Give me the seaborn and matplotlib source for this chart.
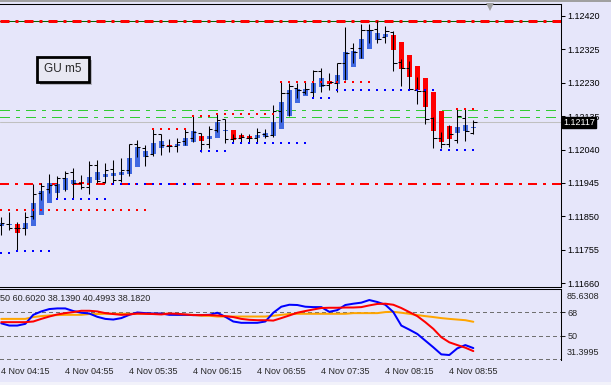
import numpy as np
import matplotlib
matplotlib.use("Agg")
import matplotlib.pyplot as plt
import seaborn as sns
from matplotlib.patches import Rectangle
from matplotlib.lines import Line2D
from matplotlib.transforms import IdentityTransform, blended_transform_factory

# "GU m5" 5-minute bars, real OHLC (black bars)
open_ = [1.11824, 1.11828, 1.11818, 1.11818, 1.11851, 1.11916, 1.11929, 1.11939, 1.11960, 1.11975,
         1.11946, 1.11934, 1.11995, 1.11948, 1.11984, 1.11953, 1.11982, 1.12055, 1.12044, 1.12027,
         1.12084, 1.12050, 1.12049, 1.12065, 1.12072, 1.12086, 1.12055, 1.12097, 1.12126, 1.12070,
         1.12074, 1.12074, 1.12074, 1.12084, 1.12082, 1.12150, 1.12200, 1.12214, 1.12205, 1.12203,
         1.12264, 1.12223, 1.12229, 1.12285, 1.12328, 1.12328, 1.12380, 1.12382, 1.12359, 1.12375,
         1.12288, 1.12271, 1.12210, 1.12207, 1.12129, 1.12072, 1.12056, 1.12067, 1.12129, 1.12088]
high = [1.11848, 1.11861, 1.11834, 1.11863, 1.11941, 1.11944, 1.11971, 1.11965, 1.11979, 1.11987,
        1.11968, 1.12008, 1.12010, 1.12002, 1.12010, 1.12017, 1.12055, 1.12067, 1.12052, 1.12098,
        1.12085, 1.12070, 1.12074, 1.12098, 1.12136, 1.12088, 1.12107, 1.12141, 1.12127, 1.12084,
        1.12086, 1.12084, 1.12101, 1.12099, 1.12167, 1.12233, 1.12229, 1.12230, 1.12235, 1.12266,
        1.12271, 1.12257, 1.12287, 1.12389, 1.12343, 1.12397, 1.12397, 1.12407, 1.12390, 1.12377,
        1.12297, 1.12292, 1.12246, 1.12212, 1.12132, 1.12091, 1.12110, 1.12156, 1.12155, 1.12124]
low = [1.11797, 1.11811, 1.11752, 1.11797, 1.11842, 1.11897, 1.11917, 1.11902, 1.11923, 1.11902,
       1.11928, 1.11914, 1.11944, 1.11946, 1.11946, 1.11949, 1.11965, 1.12020, 1.11993, 1.12022,
       1.12025, 1.12033, 1.12034, 1.12053, 1.12062, 1.12034, 1.12044, 1.12090, 1.12060, 1.12058,
       1.12058, 1.12058, 1.12058, 1.12072, 1.12077, 1.12119, 1.12136, 1.12188, 1.12199, 1.12189,
       1.12205, 1.12208, 1.12205, 1.12238, 1.12286, 1.12300, 1.12342, 1.12342, 1.12344, 1.12262,
       1.12221, 1.12210, 1.12169, 1.12112, 1.12044, 1.12044, 1.12048, 1.12060, 1.12065, 1.12084]
close = [1.11830, 1.11816, 1.11818, 1.11848, 1.11914, 1.11937, 1.11939, 1.11958, 1.11973, 1.11944,
         1.11933, 1.11995, 1.11951, 1.11982, 1.11954, 1.11982, 1.12055, 1.12047, 1.12022, 1.12084,
         1.12052, 1.12050, 1.12062, 1.12090, 1.12091, 1.12056, 1.12098, 1.12124, 1.12069, 1.12073,
         1.12076, 1.12074, 1.12089, 1.12079, 1.12150, 1.12200, 1.12222, 1.12210, 1.12212, 1.12264,
         1.12224, 1.12233, 1.12285, 1.12314, 1.12318, 1.12380, 1.12379, 1.12355, 1.12378, 1.12285,
         1.12272, 1.12212, 1.12207, 1.12127, 1.12072, 1.12056, 1.12084, 1.12136, 1.12094, 1.12119]

# heiken ashi bodies (coloured rectangles)
ha_open = [1.11823, 1.11825, 1.11828, 1.11815, 1.11823, 1.11854, 1.11889, 1.11915, 1.11924, 1.11942,
           1.11948, 1.11945, 1.11954, 1.11963, 1.11966, 1.11968, 1.11971, 1.11991, 1.12020, 1.12027,
           1.12043, 1.12053, 1.12049, 1.12051, 1.12062, 1.12079, 1.12070, 1.12074, 1.12094, 1.12096,
           1.12081, 1.12079, 1.12073, 1.12075, 1.12079, 1.12099, 1.12136, 1.12171, 1.12192, 1.12200,
           1.12217, 1.12235, 1.12227, 1.12238, 1.12276, 1.12298, 1.12326, 1.12352, 1.12361, 1.12366,
           1.12346, 1.12309, 1.12278, 1.12244, 1.12204, 1.12150, 1.12107, 1.12088, 1.12094, 1.12102]
ha_close = [1.11830, 1.11828, 1.11804, 1.11831, 1.11888, 1.11922, 1.11944, 1.11942, 1.11960, 1.11954,
            1.11942, 1.11962, 1.11976, 1.11971, 1.11974, 1.11977, 1.12017, 1.12047, 1.12036, 1.12059,
            1.12064, 1.12049, 1.12057, 1.12074, 1.12094, 1.12065, 1.12079, 1.12117, 1.12096, 1.12067,
            1.12073, 1.12072, 1.12082, 1.12086, 1.12119, 1.12175, 1.12210, 1.12213, 1.12212, 1.12230,
            1.12243, 1.12227, 1.12252, 1.12318, 1.12319, 1.12355, 1.12378, 1.12372, 1.12369, 1.12323,
            1.12268, 1.12245, 1.12208, 1.12162, 1.12094, 1.12062, 1.12070, 1.12105, 1.12110, 1.12103]

# dotted resistance / support levels: price, first bar, last bar
res_price = [1.11868, 1.12099, 1.12136, 1.12141, 1.12233, 1.12155]
res_start = [0, 19, 24, 27, 35, 57]
res_end = [18, 23, 26, 34, 46, 59]
sup_price = [1.11745, 1.11752, 1.11900, 1.11942, 1.12037, 1.12058, 1.12188, 1.12208, 1.12039]
sup_start = [0, 2, 7, 14, 25, 29, 39, 42, 55]
sup_end = [1, 6, 13, 24, 28, 38, 41, 54, 59]

hi_line = 1.12405
lo_line = 1.11943
green_lines = [1.12153, 1.12132]
bid = 1.12117

price_ticks = [1.11660, 1.11755, 1.11850, 1.11945, 1.12040, 1.12135, 1.12230, 1.12325, 1.12420]
time_labels = ["4 Nov 04:15", "4 Nov 04:55", "4 Nov 05:35", "4 Nov 06:15",
               "4 Nov 06:55", "4 Nov 07:35", "4 Nov 08:15", "4 Nov 08:55"]

# oscillator sub window
osc_blue = [59.4, 57.7, 57.7, 59.0, 65.9, 68.5, 70.3, 70.8, 70.8, 68.8,
            67.5, 66.9, 64.4, 62.8, 62.3, 63.4, 65.9, 67.7, 67.2, 66.9,
            66.9, 65.9, 65.9, 65.9, 65.7, 65.7, 65.9, 67.5, 64.4, 60.8,
            59.8, 59.8, 59.8, 60.8, 67.5, 72.1, 73.6, 73.4, 72.1, 71.8,
            71.8, 68.2, 69.5, 73.4, 74.4, 75.2, 77.2, 75.7, 73.6, 68.0,
            57.7, 54.6, 51.3, 46.2, 41.1, 35.7, 35.2, 40.3, 42.8, 40.5]
osc_red = [60.3, 60.3, 60.3, 60.3, 60.8, 62.8, 64.6, 66.2, 67.2, 68.0,
           69.0, 69.0, 68.5, 67.2, 66.5, 65.9, 66.2, 66.9, 66.7, 66.5,
           66.2, 66.9, 66.7, 66.2, 65.7, 65.7, 65.7, 65.4, 64.9, 64.2,
           62.8, 62.1, 61.8, 61.8, 61.5, 63.4, 65.4, 67.5, 68.8, 70.0,
           71.1, 71.3, 71.3, 71.5, 71.5, 71.8, 73.1, 74.2, 74.4, 73.6,
           71.1, 68.0, 64.9, 60.3, 55.2, 48.8, 44.9, 42.8, 40.8, 38.2]
osc_orange = [62.8, 62.8, 62.8, 62.8, 64.2, 64.9, 65.4, 65.7, 65.9, 65.9,
              65.9, 66.5, 66.5, 66.7, 66.7, 66.7, 66.7, 66.7, 66.7, 66.7,
              66.7, 66.7, 65.9, 65.9, 65.9, 65.2, 65.2, 64.6, 64.6, 64.6,
              64.6, 64.6, 64.6, 64.6, 65.2, 65.9, 66.5, 66.7, 66.7, 66.7,
              66.7, 66.7, 66.7, 66.7, 67.2, 67.2, 67.2, 67.2, 68.0, 68.2,
              67.5, 66.7, 65.7, 64.9, 64.2, 63.4, 62.8, 62.3, 61.8, 60.6]
osc_levels = [68, 50, 32]
osc_min, osc_max = 31.3995, 85.6308
osc_header = "50 60.6020 38.1390 40.4993 38.1820"

sns.set_style("white")
plt.rcParams['font.family'] = ['Liberation Sans', 'DejaVu Sans']

BG = '#E6E6FA'
W, H = 611, 385
fig = plt.figure(figsize=(W / 100, H / 100), dpi=100, facecolor=BG)


def frac(x0, y0, x1, y1):
    return [x0 / W, 1 - y1 / H, (x1 - x0) / W, (y1 - y0) / H]


ax = fig.add_axes(frac(0, 4, 561, 287), facecolor=BG)
ax2 = fig.add_axes(frac(0, 289, 561, 360), facecolor=BG)

bars = np.arange(len(close))
ho, hc = np.array(ha_open), np.array(ha_close)
up = hc >= ho
body_h = np.maximum(np.abs(hc - ho), 0.00003)

# horizontal lines
ax.axhline(hi_line, color='#006400', lw=0.75, zorder=1)
ax.axhline(hi_line, color='#FF0000', lw=2.16, ls=(0, (3, 2, 1, 2)), zorder=1.2)
ax.axhline(lo_line, color='#FF0000', lw=1.44, ls=(0, (4.5, 3, 1.5, 3)), zorder=1.2)
for g in green_lines:
    ax.axhline(g, color='#32CD32', lw=0.75, ls=(0, (9, 6, 3, 6)), zorder=1, antialiased=False)
ax.axhline(bid, color='#C0C0C0', lw=0.75, zorder=1)

# candles
ax.bar(bars, body_h, bottom=np.minimum(ho, hc), width=0.625,
       color=np.where(up, '#4169E1', '#FF0000'), linewidth=0, zorder=2)
ax.vlines(bars, low, high, color='black', lw=0.75, zorder=3)
ax.hlines(open_, bars - 0.4, bars, color='black', lw=0.75, zorder=3)
ax.hlines(close, bars, bars + 0.4, color='black', lw=0.75, zorder=3)

# dotted levels
for p, s, e in zip(res_price, res_start, res_end):
    xs = np.arange(s, e + 1)
    ax.plot(xs, [p] * len(xs), ls='none', marker='s', ms=1.5, mew=0, color='#FF0000', zorder=4)
for p, s, e in zip(sup_price, sup_start, sup_end):
    xs = np.arange(s, e + 1)
    ax.plot(xs, [p] * len(xs), ls='none', marker='s', ms=1.5, mew=0, color='#0000FF', zorder=4)

ax.set_xlim(-0.16, 69.96)
ax.set_ylim(1.11649, 1.12454)
ax.set_xticks([])
ax.yaxis.tick_right()
ax.set_yticks(price_ticks)
ax.set_yticklabels([f"{t:.5f}" for t in price_ticks])
ax.tick_params(axis='y', direction='out', length=3, width=0.75, pad=1.5, labelsize=6.5, colors='black')
for side in ['top', 'right', 'bottom']:
    ax.spines[side].set_color('black')
    ax.spines[side].set_linewidth(0.75)
ax.spines['left'].set_visible(False)

ax.text(1.004, bid, f"{bid:.5f}", transform=blended_transform_factory(ax.transAxes, ax.transData),
        color='white', fontsize=6.5, va='center', ha='left', zorder=10, clip_on=False,
        bbox=dict(boxstyle='square,pad=0.12', fc='black', ec='black'))

# oscillator panel
for lev in osc_levels:
    ax2.axhline(lev, color='#707070', lw=0.75, ls=(0, (3, 3)), zorder=1, antialiased=False)
sns.lineplot(x=bars, y=osc_orange, ax=ax2, color='#FFA500', lw=1.44, zorder=2)
sns.lineplot(x=bars, y=osc_blue, ax=ax2, color='#0000FF', lw=1.44, zorder=3)
sns.lineplot(x=bars, y=osc_red, ax=ax2, color='#FF0000', lw=1.44, zorder=4)
ax2.set_xlim(-0.16, 69.96)
ax2.set_ylim(osc_min, osc_max)
ax2.set_xticks(bars[::8])
ax2.set_xticklabels(time_labels)
plt.setp(ax2.get_xticklabels(), ha='left')
ax2.tick_params(axis='x', direction='out', length=3, width=0.75, pad=2, labelsize=6.5)
ax2.yaxis.tick_right()
ax2.set_yticks([50, 68])
ax2.set_yticklabels(['50', '68'])
ax2.tick_params(axis='y', direction='out', length=3, width=0.75, pad=1.5, labelsize=6.5)
ax2.set_xlabel('')
ax2.set_ylabel('')
yblend = blended_transform_factory(ax2.transAxes, ax2.transData)
ax2.annotate(f"{osc_max:.4f}", (1.0, osc_max), xycoords=yblend, xytext=(4, -2),
             textcoords='offset points', fontsize=6.5, va='top', ha='left', annotation_clip=False)
ax2.annotate(f"{osc_min:.4f}", (1.0, osc_min), xycoords=yblend, xytext=(4, 2.5),
             textcoords='offset points', fontsize=6.5, va='bottom', ha='left', annotation_clip=False)
ax2.text(0.0, 0.87, osc_header, transform=ax2.transAxes, fontsize=6.5, va='center', ha='left')
for side in ['top', 'right']:
    ax2.spines[side].set_color('black')
    ax2.spines[side].set_linewidth(0.75)
ax2.spines['left'].set_visible(False)
ax2.spines['bottom'].set_visible(False)

# chart label box, shift marker and window strips
idt = IdentityTransform()
fig.add_artist(Rectangle((40, H - 85), 52, 25, transform=idt, fc='#B4B4C0', ec='none'))
fig.add_artist(Rectangle((37, H - 82), 52, 25, transform=idt, fc='#E8E8F2', ec='black', lw=2))
fig.text(63 / W, 1 - 69.5 / H, "GU m5", ha='center', va='center', fontsize=8.5)
fig.add_artist(Line2D([490], [H - 7], marker='v', ms=6, mew=0, color='#A0A0A0', transform=idt))
fig.add_artist(Rectangle((0, H - 2), W, 2, transform=idt, fc='#A0A0A0', ec='none'))
fig.add_artist(Rectangle((0, 0), W, 3, transform=idt, fc='#F2F2FA', ec='none'))

fig.savefig("out.png", dpi=100, facecolor=BG)
